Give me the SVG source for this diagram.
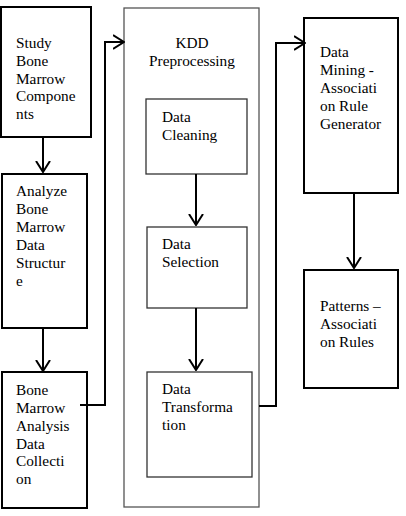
<svg xmlns="http://www.w3.org/2000/svg" width="406" height="516" viewBox="0 0 406 516">
<style>
.t{font-family:'Liberation Serif','DejaVu Serif',serif;font-size:15.3px;fill:#000}
.b{fill:#fff;stroke:#000;stroke-width:2}
.k{fill:#fff;stroke:#555;stroke-width:1.3}
.i{fill:#fff;stroke:#333;stroke-width:1.3}
.c{fill:none;stroke:#000;stroke-width:2}
</style>
<defs>
<marker id="ah" viewBox="0 0 12 16" refX="11" refY="8" markerWidth="12" markerHeight="16" markerUnits="userSpaceOnUse" orient="auto">
<path d="M0,1 L11,8 L0,15" fill="none" stroke="#000" stroke-width="2"/>
</marker>
</defs>
<rect width="406" height="516" fill="#fff"/>
<g class="t" font-family="Liberation Serif, DejaVu Serif, serif">
<g id="kdd">
<rect class="k" x="124" y="8" width="135" height="499"/>
<text x="192" y="48" text-anchor="middle">KDD</text>
<text x="192" y="66" text-anchor="middle">Preprocessing</text>
</g>
<g id="study">
<rect class="b" x="1" y="7" width="90" height="130"/>
<text x="16" y="48">Study</text>
<text x="16" y="65.8">Bone</text>
<text x="16" y="83.6">Marrow</text>
<text x="16" y="101.4">Compone</text>
<text x="16" y="119.2">nts</text>
</g>
<g id="analyze">
<rect class="b" x="2" y="174" width="85" height="154"/>
<text x="16" y="196">Analyze</text>
<text x="16" y="214">Bone</text>
<text x="16" y="232">Marrow</text>
<text x="16" y="250">Data</text>
<text x="16" y="268">Structur</text>
<text x="16" y="286">e</text>
</g>
<g id="collection">
<rect class="b" x="2" y="372" width="85" height="136"/>
<text x="16" y="395">Bone</text>
<text x="16" y="413">Marrow</text>
<text x="16" y="431">Analysis</text>
<text x="16" y="448.5">Data</text>
<text x="16" y="466">Collecti</text>
<text x="16" y="484">on</text>
</g>
<g id="cleaning">
<rect class="i" x="146" y="99" width="101" height="75"/>
<text x="162" y="122">Data</text>
<text x="162" y="139.5">Cleaning</text>
</g>
<g id="selection">
<rect class="i" x="147" y="227" width="100" height="81"/>
<text x="162" y="249">Data</text>
<text x="162" y="267">Selection</text>
</g>
<g id="transformation">
<rect class="i" x="147" y="372" width="105" height="105"/>
<text x="162" y="394">Data</text>
<text x="162" y="412">Transforma</text>
<text x="162" y="429.5">tion</text>
</g>
<g id="mining">
<rect class="b" x="304" y="18" width="94" height="175"/>
<text x="320" y="57">Data</text>
<text x="320" y="75">Mining -</text>
<text x="320" y="93">Associati</text>
<text x="320" y="111">on Rule</text>
<text x="320" y="129">Generator</text>
</g>
<g id="patterns">
<rect class="b" x="304" y="270" width="94" height="118"/>
<text x="320" y="311">Patterns –</text>
<text x="320" y="329">Associati</text>
<text x="320" y="347">on Rules</text>
</g>
</g>
<g id="connectors">
<path class="c" d="M43,137 V172" marker-end="url(#ah)"/>
<path class="c" d="M43,328 V371" marker-end="url(#ah)"/>
<path class="c" d="M80,405 H105 V42 H124" marker-end="url(#ah)"/>
<path class="c" d="M196,174 V225" marker-end="url(#ah)"/>
<path class="c" d="M196,308 V370" marker-end="url(#ah)"/>
<path class="c" d="M259,406 H276 V43 H305" marker-end="url(#ah)"/>
<path class="c" d="M354,193 V268" marker-end="url(#ah)"/>
</g>
</svg>
